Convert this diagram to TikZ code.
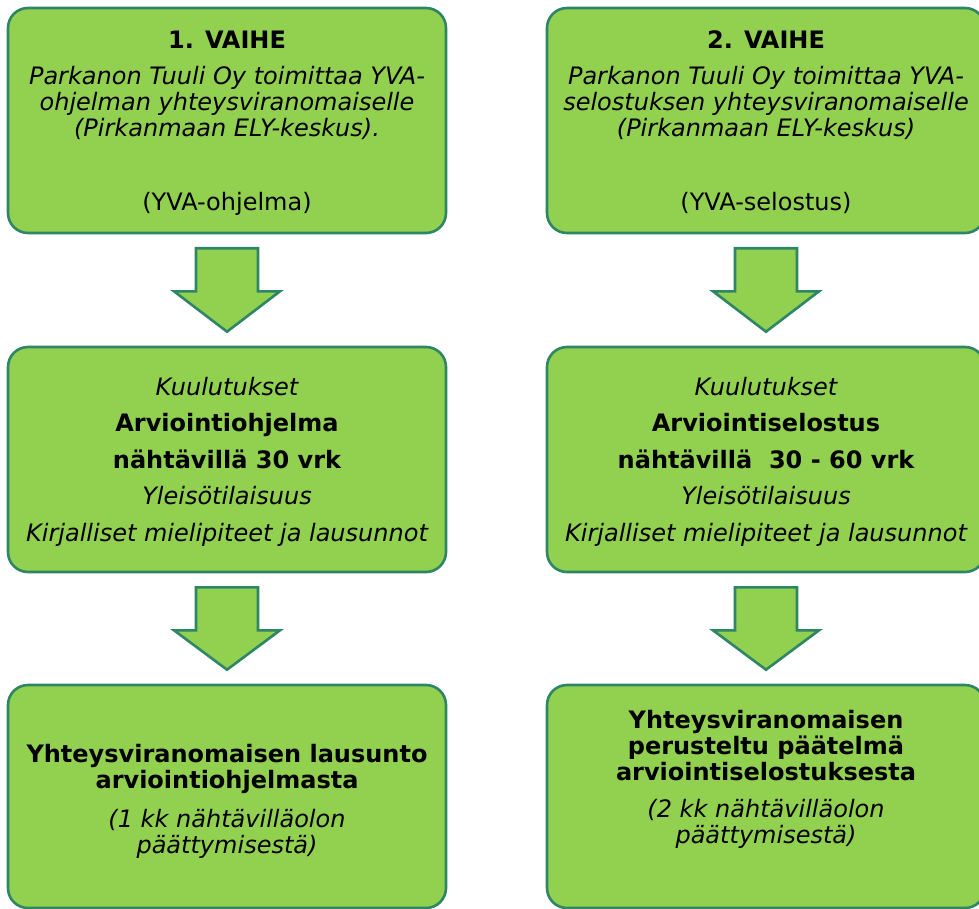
\documentclass[tikz,border=0pt]{standalone}
\usepackage{fontspec}
\setmainfont{DejaVu Sans}
\usetikzlibrary{calc}
\definecolor{boxfill}{HTML}{92D050}
\definecolor{boxline}{RGB}{46,134,100}
\tikzset{
  stagebox/.style={draw=boxline, fill=boxfill, line width=2.6pt, rounded corners=20pt,
    minimum width=438pt, minimum height=#1, inner sep=0pt},
  blockarrow/.style={draw=boxline, fill=boxfill, line width=2.6pt, line join=miter},
  txt/.style={anchor=base, inner sep=0pt, font=\fontsize{24}{28}\selectfont},
  txtb/.style={txt, font=\fontsize{24}{28}\selectfont\bfseries},
  txti/.style={txt, font=\fontsize{24}{28}\selectfont\itshape},
}
\begin{document}
\begin{tikzpicture}[x=1pt,y=-1pt]
\useasboundingbox (0,0) rectangle (979,909);
\clip (0,0) rectangle (979,909);
% boxes
\node[stagebox=225pt] (b1) at (227,120.5) {};
\node[stagebox=225pt] (b2) at (766,120.5) {};
\node[stagebox=225pt] (m1) at (227,459.5) {};
\node[stagebox=225pt] (m2) at (766,459.5) {};
\node[stagebox=223pt] (l1) at (227,796.5) {};
\node[stagebox=223pt] (l2) at (766,796.5) {};
% arrows
\foreach \a/\b in {b1/m1, b2/m2, m1/l1, m2/l2}{
  \draw[blockarrow] ($(\a.south)+(-31,14)$) -- ++(62,0) -- ++(0,43) -- ++(22,0)
    -- ($(\b.north)+(0,-14)$) -- ($(\a.south)+(-53,57)$) -- ++(22,0) -- cycle;
}
% box 1 text
\node[txtb] (b1t1) at (227,49) {1. VAIHE};
\node[txti] (b1t2) at (227,85) {Parkanon Tuuli Oy toimittaa YVA-};
\node[txti] (b1t3) at (227,111) {ohjelman yhteysviranomaiselle};
\node[txti] (b1t4) at (227,137) {(Pirkanmaan ELY-keskus).};
\node[txt]  (b1t5) at (227,211) {(YVA-ohjelma)};
% box 2 text
\node[txtb] (b2t1) at (766,49) {2. VAIHE};
\node[txti] (b2t2) at (766,85) {Parkanon Tuuli Oy toimittaa YVA-};
\node[txti] (b2t3) at (766,111) {selostuksen yhteysviranomaiselle};
\node[txti] (b2t4) at (766,137) {(Pirkanmaan ELY-keskus)};
\node[txt]  (b2t5) at (766,211) {(YVA-selostus)};
% middle left
\node[txti] (m1t1) at (227,395) {Kuulutukset};
\node[txtb] (m1t2) at (227,431) {Arviointiohjelma};
\node[txtb] (m1t3) at (227,468) {nähtävillä 30 vrk};
\node[txti] (m1t4) at (227,504) {Yleisötilaisuus};
\node[txti] (m1t5) at (227,541) {Kirjalliset mielipiteet ja lausunnot};
% middle right
\node[txti] (m2t1) at (766,395) {Kuulutukset};
\node[txtb] (m2t2) at (766,431) {Arviointiselostus};
\node[txtb] (m2t3) at (766,468) {nähtävillä\ \ 30 - 60 vrk};
\node[txti] (m2t4) at (766,504) {Yleisötilaisuus};
\node[txti] (m2t5) at (766,541) {Kirjalliset mielipiteet ja lausunnot};
% bottom left
\node[txtb] (l1t1) at (227,762) {Yhteysviranomaisen lausunto};
\node[txtb] (l1t2) at (227,788) {arviointiohjelmasta};
\node[txti] (l1t3) at (227,827) {(1 kk nähtävilläolon};
\node[txti] (l1t4) at (227,853) {päättymisestä)};
% bottom right
\node[txtb] (l2t1) at (766,728) {Yhteysviranomaisen};
\node[txtb] (l2t2) at (766,754) {perusteltu päätelmä};
\node[txtb] (l2t3) at (766,780) {arviointiselostuksesta};
\node[txti] (l2t4) at (766,817) {(2 kk nähtävilläolon};
\node[txti] (l2t5) at (766,843) {päättymisestä)};
\end{tikzpicture}
\end{document}
